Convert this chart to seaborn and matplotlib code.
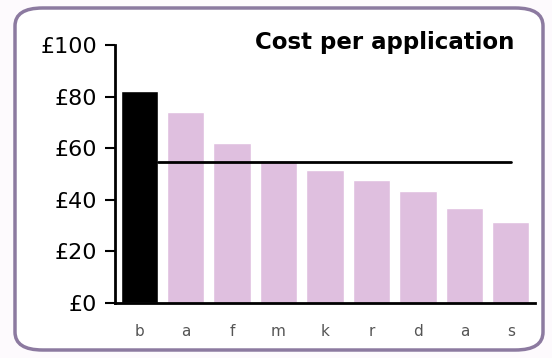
import matplotlib
matplotlib.use("Agg")
import matplotlib.pyplot as plt
from matplotlib.patches import FancyBboxPatch
import seaborn as sns
import pandas as pd

# chart data
categories = ["b", "a", "f", "m", "k", "r", "d", "a ", "s"]
costs = [82, 74, 62, 55.5, 51.5, 47.5, 43.5, 37, 31.5]
average = 54.8
y_ticks = [0, 20, 40, 60, 80, 100]
y_labels = ["£0", "£20", "£40", "£60", "£80", "£100"]

df = pd.DataFrame({"org": categories, "cost": costs})
bar_colors = ["#000000"] + ["#dfbfdf"] * (len(categories) - 1)

sns.set_style("white")
plt.rcParams["font.family"] = ["DejaVu Sans"]

fig = plt.figure(figsize=(5.52, 3.58), dpi=100)
fig.patch.set_facecolor("#fdfafd")

# rounded frame around the chart
frame = FancyBboxPatch((15 / 552, 8 / 358), 528 / 552, 342 / 358,
                       boxstyle="round,pad=0,rounding_size=0.05",
                       transform=fig.transFigure, facecolor="white",
                       edgecolor="#8c7aa0", linewidth=2.5, zorder=-1)
fig.patches.append(frame)

ax = fig.add_axes([115 / 552, 55 / 358, 420 / 552, 258 / 358])
ax.set_facecolor("none")
sns.barplot(data=df, x="org", y="cost", hue="org", palette=bar_colors,
            legend=False, width=0.8, saturation=1, ax=ax)

ax.plot([0.4, 8.0], [average, average], color="black", linewidth=2, zorder=5)

ax.set_xlim(-0.52, 8.52)
ax.set_ylim(0, 100)
ax.set_yticks(y_ticks)
ax.set_yticklabels(y_labels, fontsize=16, color="black")
ax.set_xticks(range(len(categories)))
ax.set_xticklabels([c.strip() for c in categories], fontsize=11, color="#555555")
ax.tick_params(axis="y", length=7, width=1.5, color="black", pad=6, left=True)
ax.tick_params(axis="x", length=0, pad=15)
ax.set_xlabel("")
ax.set_ylabel("")

for side in ["top", "right"]:
    ax.spines[side].set_visible(False)
for side in ["left", "bottom"]:
    ax.spines[side].set_color("black")
    ax.spines[side].set_linewidth(2)

fig.text(514 / 552, 1 - 42 / 358, "Cost per application", ha="right", va="center",
         fontsize=16.5, fontweight="bold", color="black")

fig.savefig("out.png", dpi=100, facecolor=fig.get_facecolor())
